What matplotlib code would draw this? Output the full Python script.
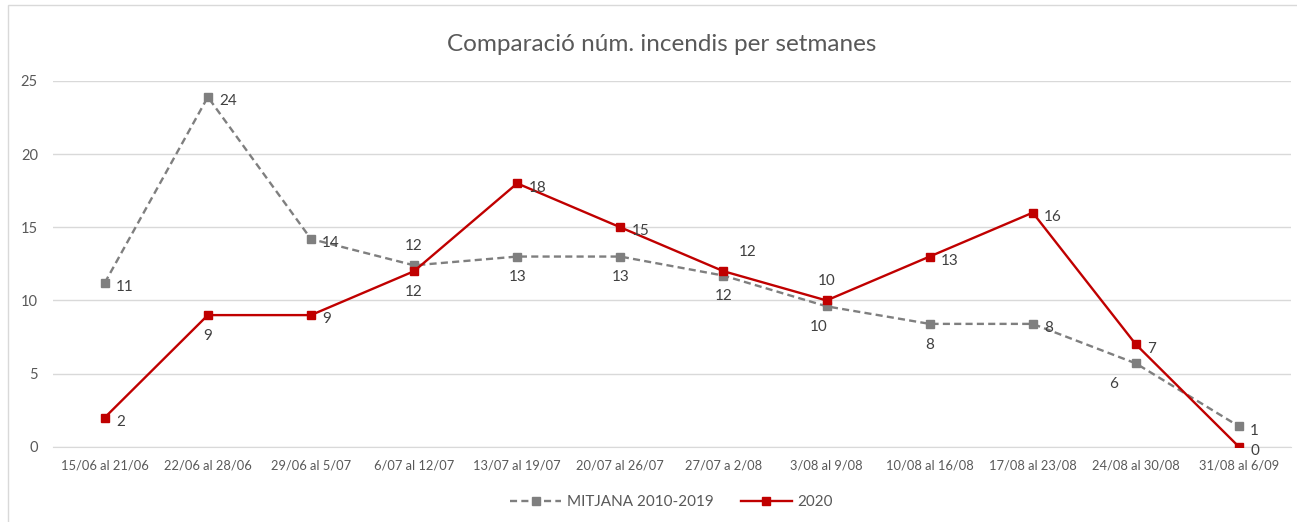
import matplotlib.pyplot as plt
from matplotlib.patches import Rectangle

weeks = ['15/06 al 21/06', '22/06 al 28/06', '29/06 al 5/07', '6/07 al 12/07',
         '13/07 al 19/07', '20/07 al 26/07', '27/07 a 2/08', '3/08 al 9/08',
         '10/08 al 16/08', '17/08 al 23/08', '24/08 al 30/08', '31/08 al 6/09']
mitjana = [11.2, 23.9, 14.2, 12.4, 13.0, 13.0, 11.7, 9.6, 8.4, 8.4, 5.7, 1.4]
any2020 = [2, 9, 9, 12, 18, 15, 12, 10, 13, 16, 7, 0]

# where each data label goes: r = right, b = below, a = above, bl/bs = below-left
pos_mitjana = ['r', 'r', 'r', 'a', 'b', 'b', 'b', 'bs', 'b', 'r', 'bl', 'r']
pos_2020 = ['r', 'b', 'r', 'b', 'r', 'r', 'ar', 'a', 'r', 'r', 'r', 'r']

plt.rcParams['font.family'] = ['Lato', 'DejaVu Sans']
GREY = '#7f7f7f'
RED = '#c00000'
TXT = '#595959'

fig = plt.figure(figsize=(12.97, 5.22), dpi=100)
ax = fig.add_axes([0.041, 0.144, 0.954, 0.701])

x = list(range(len(weeks)))
ax.plot(x, mitjana, color=GREY, linestyle=(0, (3, 1.8)), linewidth=1.7,
        marker='s', markersize=6, label='MITJANA 2010-2019', zorder=3)
ax.plot(x, any2020, color=RED, linewidth=1.7, marker='s', markersize=6,
        label='2020', zorder=4)

offsets = {'r': (8, -3, 'left', 'center'), 'b': (0, -10, 'center', 'top'),
           'a': (0, 9, 'center', 'bottom'), 'bl': (-16, -10, 'center', 'top'),
           'bs': (-6, -10, 'center', 'top'), 'ar': (11, 9, 'left', 'bottom')}


def add_labels(vals, where):
    for i, v in enumerate(vals):
        dx, dy, ha, va = offsets[where[i]]
        ax.annotate(f'{round(v):d}', (i, v), xytext=(dx, dy), textcoords='offset points',
                    ha=ha, va=va, fontsize=11, color='#404040', zorder=5)


add_labels(mitjana, pos_mitjana)
add_labels(any2020, pos_2020)

ax.set_xlim(-0.5, len(weeks) - 0.5)
ax.set_ylim(0, 25)
ax.set_yticks(range(0, 26, 5))
ax.set_xticks(x)
ax.set_xticklabels(weeks)
ax.tick_params(axis='x', length=0, labelsize=9.3, colors=TXT, pad=9)
ax.tick_params(axis='y', length=0, labelsize=10.5, colors=TXT, pad=11)
ax.grid(axis='y', color='#d9d9d9', linewidth=1)
ax.set_axisbelow(True)
for s in ['top', 'right', 'left']:
    ax.spines[s].set_visible(False)
ax.spines['bottom'].set_color('#d9d9d9')

fig.text(0.51, 0.915, 'Comparació núm. incendis per setmanes', ha='center', va='center',
         fontsize=17.5, color=TXT)
ax.legend(loc='center', bbox_to_anchor=(0.5, -0.151), ncol=2, frameon=False,
          fontsize=11, handlelength=3.3, handletextpad=0.4, columnspacing=1.8,
          labelcolor=TXT)

fig.patches.append(Rectangle((0.006, -0.01), 1.0, 1.0, transform=fig.transFigure,
                             fill=False, edgecolor='#d9d9d9', linewidth=1))

fig.savefig('out.png', dpi=100)
